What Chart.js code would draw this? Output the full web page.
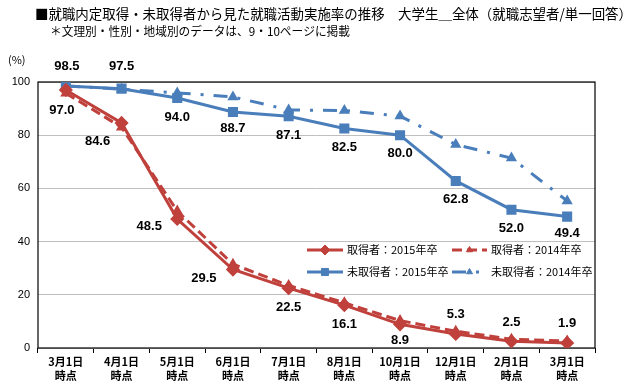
<!DOCTYPE html>
<html>
<head>
<meta charset="utf-8">
<script src="https://cdn.jsdelivr.net/npm/chart.js@4"></script>
<style>
  html, body { margin: 0; padding: 0; background: #fff; }
  #wrap { width: 640px; height: 385px; }
</style>
</head>
<body>
<div id="wrap"><canvas id="myChart" width="640" height="385"></canvas></div>
<script>
// data
const categories = [['3月1日','時点'],['4月1日','時点'],['5月1日','時点'],['6月1日','時点'],['7月1日','時点'],
                    ['8月1日','時点'],['10月1日','時点'],['12月1日','時点'],['2月1日','時点'],['3月1日','時点']];
const got2015 = [97.0, 84.6, 48.5, 29.5, 22.5, 16.1, 8.9, 5.3, 2.5, 1.9];
const got2014 = [95.8, 83.0, 51.5, 31.5, 23.5, 17.0, 10.3, 6.3, 3.3, 2.6];
const notGot2015 = [98.5, 97.5, 94.0, 88.7, 87.1, 82.5, 80.0, 62.8, 52.0, 49.4];
const notGot2014 = [98.5, 97.3, 95.9, 94.4, 89.5, 89.3, 87.2, 76.5, 71.4, 55.3];
const yTicks = [0, 20, 40, 60, 80, 100];
const seriesNames = ['取得者：2015年卒', '未取得者：2015年卒', '取得者：2014年卒', '未取得者：2014年卒'];

const RED = '#c0403c';
const BLUE = '#4a7ebb';
const CJK = '"Noto Sans CJK JP", "Noto Sans", sans-serif';

// label offsets (dx, dy) from each point
const redOffsets = [[-4,20],[-24,18],[-28,7],[-29,9],[0,19],[0,19],[0,16],[0,-19],[0,-19],[0,-20]];
const blueOffsets = [[1,-20],[0,-22],[0,19],[0,16],[0,19],[0,19],[0,18],[0,18],[0,19],[0,17]];

const pagePlugin = {
    id: 'page',
    beforeDraw(chart){
        const ctx = chart.ctx;
        ctx.save();
        ctx.fillStyle = '#fff';
        ctx.fillRect(0, 0, chart.width, chart.height);
        ctx.fillStyle = '#000';
        ctx.textBaseline = 'middle';
        ctx.textAlign = 'left';
        ctx.font = '14px ' + CJK;
        ctx.fillText('■就職内定取得・未取得者から見た就職活動実施率の推移　大学生＿全体（就職志望者/単一回答）', 35, 14, 597);
        ctx.font = '12px ' + CJK;
        ctx.fillText('＊文理別・性別・地域別のデータは、9・10ページに掲載', 50, 31, 300);
        ctx.font = '11px ' + CJK;
        ctx.fillText('(%)', 8, 60);
        ctx.restore();
    },
    beforeDatasetsDraw(chart){
        const a = chart.chartArea;
        const ctx = chart.ctx;
        ctx.save();
        ctx.strokeStyle = '#000';
        ctx.lineWidth = 1.2;
        ctx.strokeRect(a.left, a.top, a.right - a.left, a.bottom - a.top);
        ctx.restore();
    },
    afterDatasetsDraw(chart){
        const ctx = chart.ctx;
        ctx.save();
        ctx.fillStyle = '#000';
        ctx.textAlign = 'center';
        ctx.textBaseline = 'middle';
        ctx.font = 'bold 13px "Liberation Sans", Arial, sans-serif';
        const put = (dsIndex, values, offsets) => {
            chart.getDatasetMeta(dsIndex).data.forEach((pt, i) => {
                ctx.fillText(values[i].toFixed(1), pt.x + offsets[i][0], pt.y + offsets[i][1]);
            });
        };
        put(0, got2015, redOffsets);
        put(1, notGot2015, blueOffsets);

        // legend inside the plot
        const items = [
            {ds: 0, x: 307, y: 250, w: 36},
            {ds: 2, x: 452, y: 250, w: 35},
            {ds: 1, x: 307, y: 272, w: 36},
            {ds: 3, x: 452, y: 272, w: 35}
        ];
        ctx.textAlign = 'left';
        ctx.font = '11px ' + CJK;
        items.forEach(it => {
            const d = chart.data.datasets[it.ds];
            ctx.save();
            ctx.strokeStyle = d.borderColor;
            ctx.lineWidth = 3;
            ctx.setLineDash(d.borderDash || []);
            ctx.beginPath();
            ctx.moveTo(it.x, it.y);
            ctx.lineTo(it.x + it.w, it.y);
            ctx.stroke();
            ctx.restore();
            ctx.save();
            ctx.fillStyle = d.backgroundColor;
            ctx.strokeStyle = d.borderColor;
            ctx.lineWidth = 1;
            Chart.helpers.drawPoint(ctx, {pointStyle: d.pointStyle, radius: d.pointRadius, borderWidth: 1, rotation: 0},
                it.x + it.w / 2, it.y);
            ctx.restore();
            ctx.fillStyle = '#000';
            ctx.fillText(seriesNames[it.ds], it.x + it.w + 4, it.y);
        });
        ctx.restore();
    }
};

let myChart = document.getElementById('myChart').getContext('2d');
let rateChart = new Chart(myChart, {
    type: 'line',
    data: {
        labels: categories,
        datasets: [{
            label: seriesNames[0],
            data: got2015,
            borderColor: RED,
            backgroundColor: RED,
            borderWidth: 3,
            pointStyle: 'rectRot',
            pointRadius: 5,
            tension: 0
        },{
            label: seriesNames[1],
            data: notGot2015,
            borderColor: BLUE,
            backgroundColor: BLUE,
            borderWidth: 3,
            pointStyle: 'rect',
            pointRadius: 5,
            tension: 0
        },{
            label: seriesNames[2],
            data: got2014,
            borderColor: RED,
            backgroundColor: RED,
            borderWidth: 3,
            borderDash: [10, 5],
            pointStyle: 'triangle',
            pointRadius: 3.5,
            tension: 0
        },{
            label: seriesNames[3],
            data: notGot2014,
            borderColor: BLUE,
            backgroundColor: BLUE,
            borderWidth: 3,
            borderDash: [14, 10, 3, 10],
            pointStyle: 'triangle',
            pointRadius: 3.5,
            tension: 0
        }]
    },
    options: {
        responsive: false,
        animation: false,
        layout: { padding: { top: 82, right: 45, left: 0, bottom: 0 } },
        plugins: {
            legend: { display: false },
            title: { display: false },
            tooltip: { enabled: false }
        },
        scales: {
            x: {
                offset: true,
                afterFit(scale){ scale.height = 37; },
                grid: { display: true, drawOnChartArea: false, drawTicks: true, tickLength: 5, color: '#000', offset: true },
                border: { display: false },
                ticks: { color: '#000', padding: 2, maxRotation: 0, autoSkip: false,
                         font: { family: CJK, size: 11, weight: 'bold', lineHeight: 1.25 } }
            },
            y: {
                min: 0,
                max: 100,
                afterFit(scale){ scale.width = 38; },
                afterBuildTicks(scale){ scale.ticks = yTicks.map(v => ({value: v})); },
                grid: { color: '#bfbfbf', drawTicks: false, lineWidth: 1 },
                border: { display: false },
                ticks: { color: '#000', padding: 8, font: { family: '"Liberation Sans", Arial, sans-serif', size: 11 } }
            }
        }
    },
    plugins: [pagePlugin]
});
</script>
</body>
</html>
